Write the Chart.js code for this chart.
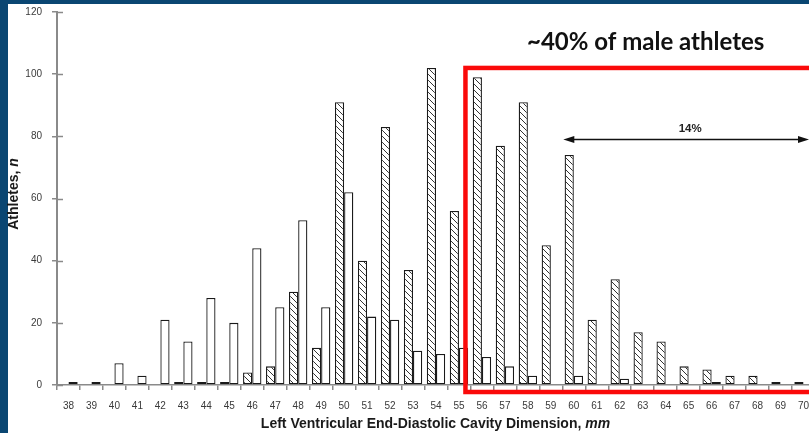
<!DOCTYPE html>
<html>
<head>
<meta charset="utf-8">
<style>
  html, body { margin: 0; padding: 0; width: 809px; height: 433px; overflow: hidden; background: #fff; }
  canvas { display: block; }
</style>
<script src="https://cdn.jsdelivr.net/npm/chart.js@4/dist/chart.umd.min.js"></script>
</head>
<body>
<canvas id="lvChart" width="815" height="433" style="width:815px;height:433px"></canvas>
<script>
// LV end-diastolic cavity dimension (mm) and athlete counts per millimetre
const categories = ['38','39','40','41','42','43','44','45','46','47','48','49','50','51','52','53','54',
                    '55','56','57','58','59','60','61','62','63','64','65','66','67','68','69','70'];
const menCounts   = [0,0,0,0,0,1,1,1,4,6,30,12,91,40,83,37,102,56,99,77,91,45,74,21,34,17,14,6,5,3,3,1,1];
const womenCounts = [1,1,7,3,21,14,28,20,44,25,53,25,62,22,21,11,10,12,9,6,3,0,3,0,2,0,0,0,1,0,0,0,0];
const yTickValues = [0, 20, 40, 60, 80, 100, 120];

const headline = '~40% of male athletes';
const rangeLabel = '14%';
const xTitleMain = 'Left Ventricular End-Diastolic Cavity Dimension, ';
const xTitleUnit = 'mm';
const yTitleMain = 'Athletes, ';
const yTitleUnit = 'n';

const canvas = document.getElementById('lvChart');
const ctx = canvas.getContext('2d');

// diagonal "\" hatching for the men's bars
function makeHatch() {
  const s = 6;
  const tile = document.createElement('canvas');
  tile.width = s; tile.height = s;
  const g = tile.getContext('2d');
  g.fillStyle = '#ffffff';
  g.fillRect(0, 0, s, s);
  g.strokeStyle = '#333333';
  g.lineWidth = 1;
  g.beginPath();
  g.moveTo(0, 0); g.lineTo(s, s);
  g.moveTo(-1, s - 1); g.lineTo(1, s + 1);
  g.moveTo(s - 1, -1); g.lineTo(s + 1, 1);
  g.stroke();
  return ctx.createPattern(tile, 'repeat');
}

const AXIS_GREY = '#8a8a8a';
const TICK_FONT = { family: '"Liberation Sans", Arial, sans-serif', size: 10 };

const framePlugin = {
  id: 'frame',
  beforeDraw(chart) {
    const c = chart.ctx;
    c.save();
    c.fillStyle = '#ffffff';
    c.fillRect(0, 0, chart.width, chart.height);
    c.fillStyle = '#0a4672';
    c.fillRect(0, 0, chart.width, 4);
    c.fillRect(0, 0, 8, chart.height);
    c.restore();
  }
};

const overlayPlugin = {
  id: 'overlay',
  afterDraw(chart) {
    const c = chart.ctx;
    const xs = chart.scales.x;
    const ys = chart.scales.y;
    const band = xs.getPixelForValue(1) - xs.getPixelForValue(0);
    c.save();

    // y ticks cross the axis line
    c.strokeStyle = AXIS_GREY;
    c.lineWidth = 1.5;
    yTickValues.forEach(v => {
      const y = Math.round(ys.getPixelForValue(v)) + 0.5;
      c.beginPath();
      c.moveTo(xs.left, y);
      c.lineTo(xs.left + 6, y);
      c.stroke();
    });

    // red frame around the 56 mm and above group
    const boxLeft = xs.getPixelForValue(categories.indexOf('56')) - band / 2 - 5;
    const boxTop = ys.getPixelForValue(102);
    const boxBottom = ys.bottom + 7;
    c.strokeStyle = '#fa0a0a';
    c.lineWidth = 4.5;
    c.strokeRect(boxLeft, boxTop, chart.width + 20 - boxLeft, boxBottom - boxTop);

    // double-headed arrow spanning 60 mm and above
    const ax1 = xs.getPixelForValue(categories.indexOf('60')) - band / 2 + 1;
    const ax2 = 809;
    const ay = ys.getPixelForValue(79);
    c.strokeStyle = '#111';
    c.fillStyle = '#111';
    c.lineWidth = 1.5;
    c.beginPath();
    c.moveTo(ax1 + 6, ay); c.lineTo(ax2 - 6, ay);
    c.stroke();
    c.beginPath();
    c.moveTo(ax1, ay); c.lineTo(ax1 + 11, ay - 3.5); c.lineTo(ax1 + 11, ay + 3.5); c.closePath();
    c.fill();
    c.beginPath();
    c.moveTo(ax2, ay); c.lineTo(ax2 - 11, ay - 3.5); c.lineTo(ax2 - 11, ay + 3.5); c.closePath();
    c.fill();

    c.font = 'bold 11.5px "Liberation Sans", Arial, sans-serif';
    c.textAlign = 'center';
    c.textBaseline = 'alphabetic';
    c.fillStyle = '#222';
    c.fillText(rangeLabel, (ax1 + ax2) / 2 + 4, ay - 7);

    // headline
    c.font = 'bold 24px Lato, "Open Sans", sans-serif';
    c.textAlign = 'left';
    c.fillStyle = '#111';
    c.fillText(headline, 527, 50);

    // x-axis title, unit in italics
    const fontMain = 'bold 14px "Liberation Sans", Arial, sans-serif';
    const fontUnit = 'italic bold 14px "Liberation Sans", Arial, sans-serif';
    c.fillStyle = '#1a1a1a';
    c.font = fontMain;
    const wMain = c.measureText(xTitleMain).width;
    c.font = fontUnit;
    const wUnit = c.measureText(xTitleUnit).width;
    const xStart = 435.5 - (wMain + wUnit) / 2;
    c.textAlign = 'left';
    c.font = fontMain;
    c.fillText(xTitleMain, xStart, 428);
    c.font = fontUnit;
    c.fillText(xTitleUnit, xStart + wMain, 428);

    // y-axis title, rotated
    c.translate(18, 194);
    c.rotate(-Math.PI / 2);
    c.font = fontMain;
    const yMain = c.measureText(yTitleMain).width;
    c.font = fontUnit;
    const yUnit = c.measureText(yTitleUnit).width;
    const yStart = -(yMain + yUnit) / 2;
    c.font = fontMain;
    c.fillText(yTitleMain, yStart, 0);
    c.font = fontUnit;
    c.fillText(yTitleUnit, yStart + yMain, 0);

    c.restore();
  }
};

new Chart(ctx, {
  type: 'bar',
  data: {
    labels: categories,
    datasets: [
      {
        label: 'Men',
        data: menCounts,
        backgroundColor: makeHatch(),
        borderColor: '#1a1a1a',
        borderWidth: 1.3,
        borderSkipped: false,
        categoryPercentage: 0.8,
        barPercentage: 1.0
      },
      {
        label: 'Women',
        data: womenCounts,
        backgroundColor: '#ffffff',
        borderColor: '#1a1a1a',
        borderWidth: 1.3,
        borderSkipped: false,
        categoryPercentage: 0.8,
        barPercentage: 1.0
      }
    ]
  },
  options: {
    responsive: false,
    animation: false,
    layout: { padding: { top: 12, left: 0, right: 0, bottom: 0 } },
    plugins: {
      legend: { display: false },
      tooltip: { enabled: false }
    },
    scales: {
      x: {
        grid: { display: true, drawOnChartArea: false, offset: true, tickLength: 5, color: AXIS_GREY, lineWidth: 1.5 },
        border: { color: AXIS_GREY, width: 1.5 },
        ticks: { font: TICK_FONT, color: '#3a3a3a', padding: 10, maxRotation: 0, autoSkip: false },
        afterFit(scale) {
          scale.height = 48;
          scale.paddingLeft = 0;
          scale.paddingRight = 0;
        }
      },
      y: {
        min: 0,
        max: 120,
        afterBuildTicks(scale) { scale.ticks = yTickValues.map(v => ({ value: v })); },
        grid: { drawOnChartArea: false, tickLength: 5, color: AXIS_GREY, lineWidth: 1.5 },
        border: { color: AXIS_GREY, width: 2 },
        ticks: { font: TICK_FONT, color: '#3a3a3a', padding: 10 },
        afterFit(scale) {
          scale.width = 57;
          scale.paddingTop = 0;
          scale.paddingBottom = 0;
        }
      }
    }
  },
  plugins: [framePlugin, overlayPlugin]
});
</script>
</body>
</html>
